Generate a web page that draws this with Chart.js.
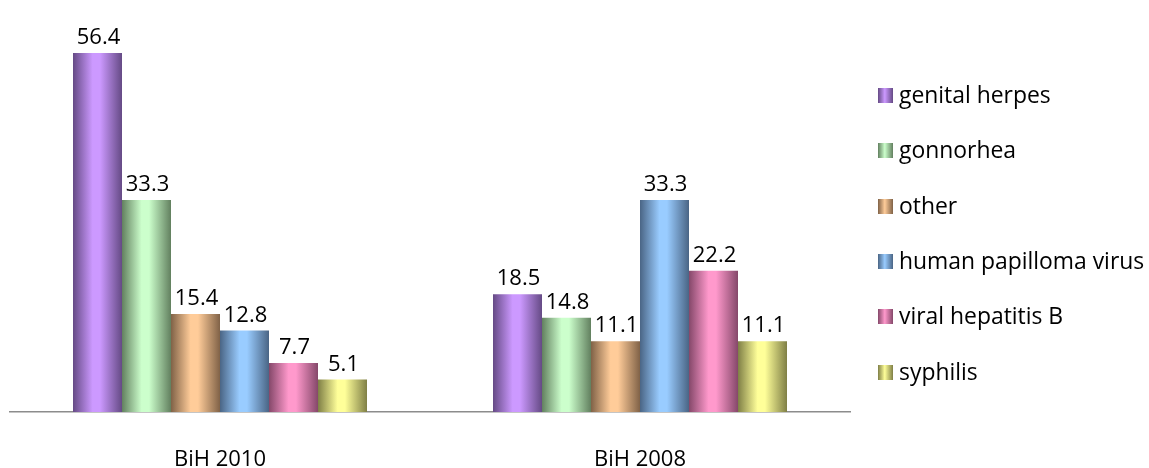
<!DOCTYPE html>
<html>
<head>
<meta charset="utf-8">
<script src="https://cdn.jsdelivr.net/npm/chart.js@4/dist/chart.umd.min.js"></script>
<style>
  html, body { margin: 0; padding: 0; background: #fff; }
  #wrap { position: relative; width: 1149px; height: 468px; }
  #grafico { position: absolute; left: 0; top: 0; }
  .item { position: absolute; left: 878px; font-family: "Open Sans", sans-serif; font-size: 22.9px; line-height: 26px; color: #000; white-space: nowrap; }
  .caja { display: inline-block; width: 15px; height: 15px; margin-right: 6px; }
</style>
</head>
<body>
<div id="wrap">
  <canvas id="grafico" width="1149" height="468"></canvas>
  <div id="leyenda"></div>
</div>
<script>
// categorías y series
const categorias = ['BiH 2010', 'BiH 2008'];
const enfermedades = ['genital herpes', 'gonnorhea', 'other', 'human papilloma virus', 'viral hepatitis B', 'syphilis'];
const genitalHerpes = [56.4, 18.5];
const gonorrea = [33.3, 14.8];
const otras = [15.4, 11.1];
const papiloma = [12.8, 33.3];
const hepatitisB = [7.7, 22.2];
const sifilis = [5.1, 11.1];

// colores claro / oscuro para el efecto cilindro
const coloresClaros = ['#cc99ff', '#ccffcc', '#ffcc99', '#99ccff', '#ff99cc', '#ffff99'];
const coloresOscuros = ['#654a85', '#62805f', '#806247', '#4a6585', '#85486a', '#7f7f46'];

const series = [genitalHerpes, gonorrea, otras, papiloma, hepatitisB, sifilis];

const datasets = series.map((valores, i) => ({
    label: enfermedades[i],
    data: valores,
    backgroundColor: coloresClaros[i],
    borderWidth: 0
}));

// Rellena cada barra con un degradado horizontal (cada barra con sus propias opciones)
const degradadoBarras = {
    id: 'degradadoBarras',
    beforeDatasetsDraw(chart) {
        const ctx = chart.ctx;
        chart.data.datasets.forEach((ds, i) => {
            chart.getDatasetMeta(i).data.forEach(bar => {
                const x0 = bar.x - bar.width / 2;
                const x1 = bar.x + bar.width / 2;
                const g = ctx.createLinearGradient(x0, 0, x1, 0);
                g.addColorStop(0, coloresOscuros[i]);
                g.addColorStop(0.4, coloresClaros[i]);
                g.addColorStop(0.55, coloresClaros[i]);
                g.addColorStop(1, coloresOscuros[i]);
                bar.options = Object.assign({}, bar.options, { backgroundColor: g });
            });
        });
    }
};

// Escribe el valor encima de cada barra
const etiquetasValor = {
    id: 'etiquetasValor',
    afterDatasetsDraw(chart) {
        const ctx = chart.ctx;
        ctx.save();
        ctx.font = '22px "Open Sans", sans-serif';
        ctx.fillStyle = '#000';
        ctx.textAlign = 'center';
        ctx.textBaseline = 'alphabetic';
        chart.data.datasets.forEach((ds, i) => {
            chart.getDatasetMeta(i).data.forEach((bar, j) => {
                ctx.fillText(ds.data[j].toFixed(1), bar.x + 1, bar.y - 9);
            });
        });
        ctx.restore();
    }
};

const ctx = document.getElementById('grafico').getContext('2d');
new Chart(ctx, {
    type: 'bar',
    data: { labels: categorias, datasets: datasets },
    options: {
        responsive: false,
        animation: false,
        layout: { padding: { left: 10, right: 299, top: 30, bottom: 0 } },
        categoryPercentage: 0.7,
        barPercentage: 1,
        plugins: {
            legend: { display: false },
            tooltip: { enabled: false }
        },
        scales: {
            y: { display: false, min: 0, max: 60 },
            x: {
                grid: { display: false, drawTicks: false },
                border: { display: true, color: '#8c8c8c', width: 1.5 },
                ticks: { color: '#000', font: { family: 'Open Sans', size: 22 }, padding: 35 },
                afterFit(scale) { scale.height = 56; }
            }
        }
    },
    plugins: [degradadoBarras, etiquetasValor]
});

// leyenda
const leyenda = document.getElementById('leyenda');
enfermedades.forEach((nombre, i) => {
    const item = document.createElement('div');
    item.className = 'item';
    item.style.top = (82 + i * 55.3) + 'px';
    const caja = document.createElement('span');
    caja.className = 'caja';
    caja.style.background = `linear-gradient(to right, ${coloresOscuros[i]}, ${coloresClaros[i]} 45%, ${coloresOscuros[i]})`;
    item.appendChild(caja);
    item.appendChild(document.createTextNode(nombre));
    leyenda.appendChild(item);
});
</script>
</body>
</html>
